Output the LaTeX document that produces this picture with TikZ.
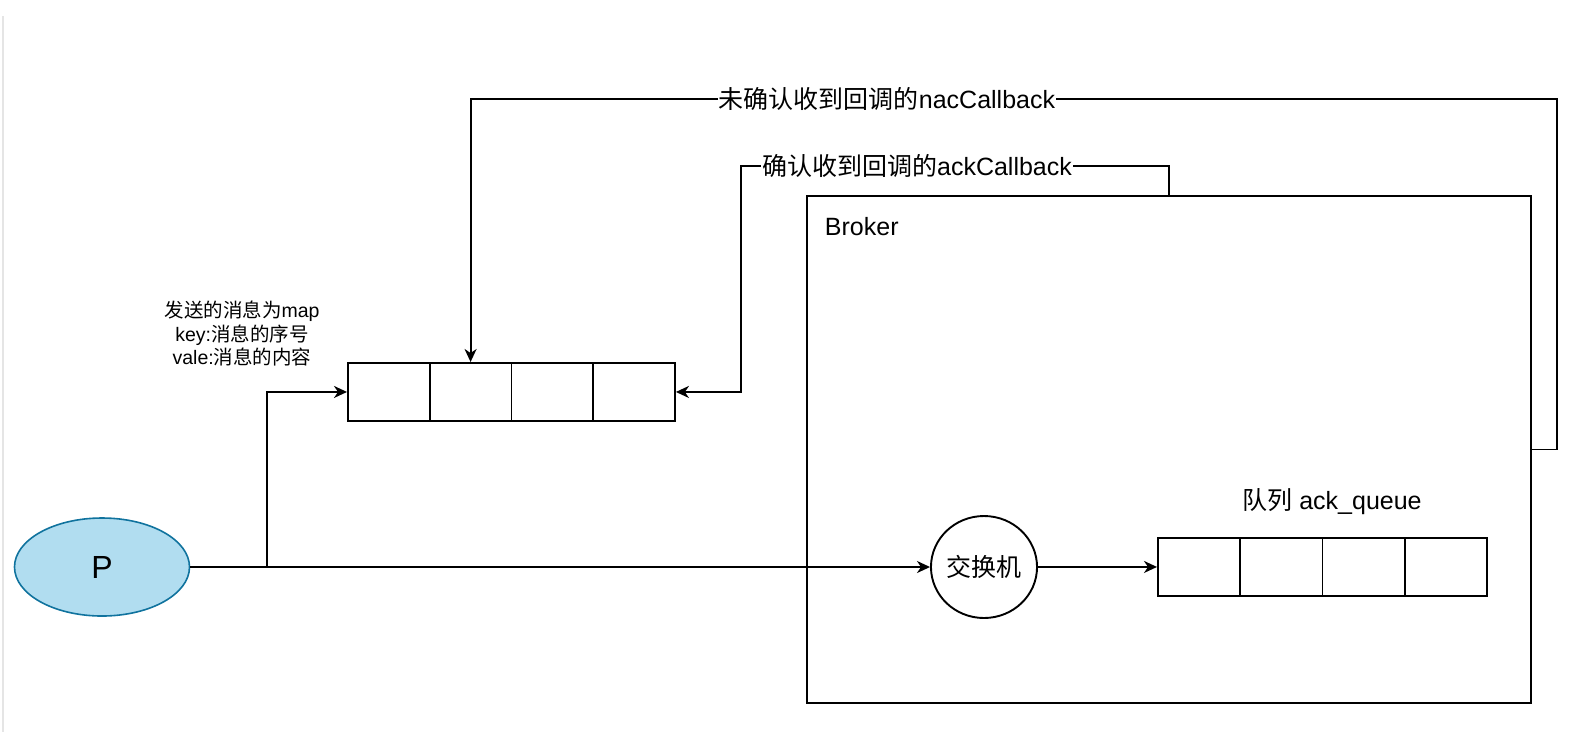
\documentclass[tikz,border=0pt]{standalone}
\usepackage{fontspec}
\setmainfont{Liberation Sans}
\newfontfamily\cjk{Noto Sans CJK SC}
\usetikzlibrary{arrows.meta,shapes.geometric}
\definecolor{pfill}{HTML}{B1DDF0}
\definecolor{pline}{HTML}{10739E}
\begin{document}
\begin{tikzpicture}[x=1pt,y=-1pt, line width=1.9pt,
  >={Stealth[length=13pt,width=12pt,inset=4pt]},
  cell/.style={draw, minimum width=81.75pt, minimum height=58pt, inner sep=0pt, anchor=north west},
  cellb/.style={cell, minimum width=82.25pt},
  lbl/.style={font=\fontsize{25}{30}\selectfont, inner sep=1pt}]
\useasboundingbox (0,0) rectangle (1594,732);
\draw[gray!20, line width=2pt] (3,16) -- (3,732);
% Broker
\node[draw, minimum width=724pt, minimum height=507pt, anchor=north west, inner sep=0pt] (broker) at (806,195) {};
\node[lbl, anchor=west] (brokerlbl) at (823,227) {Broker};
% P
\node[ellipse, draw=pline, fill=pfill, minimum width=175pt, minimum height=98pt, line width=1.6pt] (p) at (102,567) {\fontsize{32}{36}\selectfont P};
% exchange
\node[ellipse, draw, inner sep=0pt, minimum width=104pt, minimum height=102pt, font=\fontsize{25}{30}\selectfont\cjk] (ex) at (984,567) {交换机};
% queue 1
\node[cell] (q1a) at (347,362) {};
\node[cell] (q1b) at (428.75,362) {};
\node[cell] (q1c) at (510.5,362) {};
\node[cell] (q1d) at (592.25,362) {};
% queue 2
\node[cellb] (q2a) at (1157,537) {};
\node[cellb] (q2b) at (1239.25,537) {};
\node[cellb] (q2c) at (1321.5,537) {};
\node[cellb] (q2d) at (1403.75,537) {};
\node[lbl] (q2lbl) at (1332,502) {{\cjk 队列} ack\_queue};
% note
\node[font=\fontsize{19.5}{23.5}\selectfont, align=center, inner sep=0pt] (note) at (242,334) {{\cjk 发送的消息为}map\\key:{\cjk 消息的序号}\\vale:{\cjk 消息的内容}};
% connectors
\coordinate (br) at (267,567);
\draw[->] (p.east) -- (ex.west);
\draw[->] (br) |- (q1a.west);
\draw[->] (ex.east) -- (q2a.west);
\coordinate (nacR) at (1557,99);
\draw[->] (broker.east) -| (nacR) -| (q1b.north);
\node[lbl, fill=white] (naclbl) at (887,99) {{\cjk 未确认收到回调的}nacCallback};
\coordinate (ackT) at (1169,166);
\coordinate (ackL) at (741,166);
\draw[->] (broker.north -| ackT) -- (ackT) -- (ackL) |- (q1d.east);
\node[lbl, fill=white] (acklbl) at (917,166) {{\cjk 确认收到回调的}ackCallback};
\end{tikzpicture}
\end{document}
